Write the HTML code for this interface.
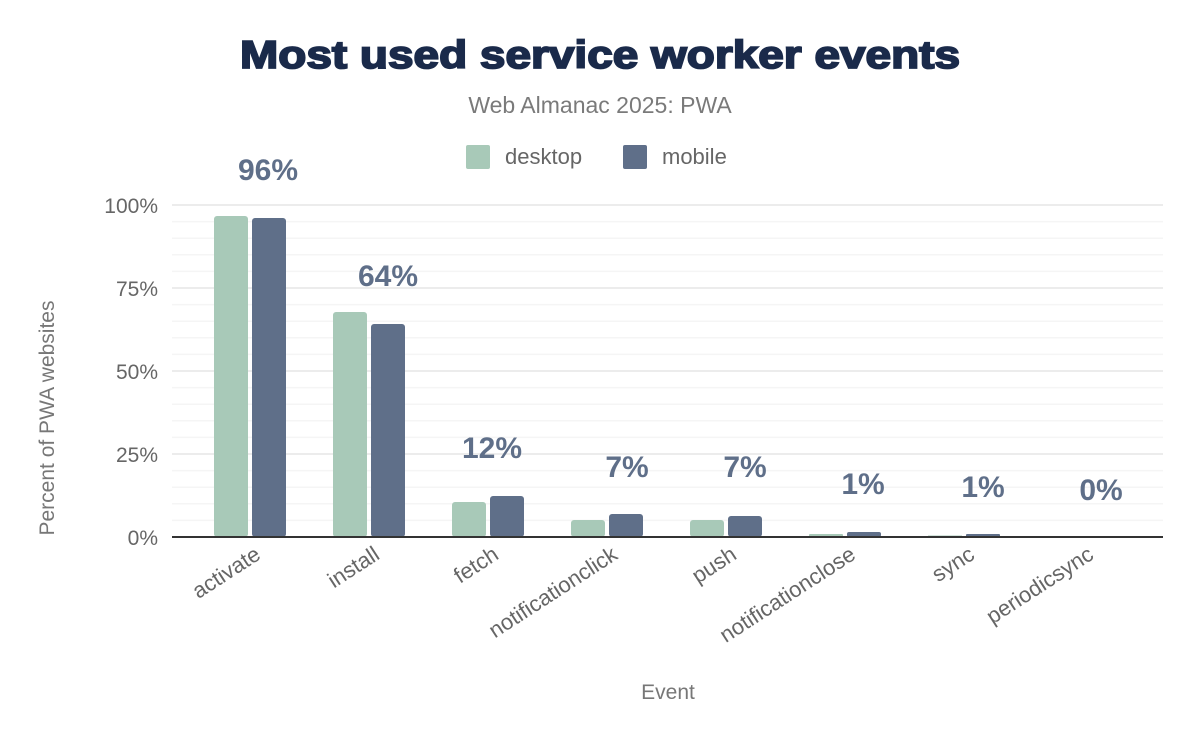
<!DOCTYPE html>
<html><head><style>body{margin:0;background:#fff}</style></head><body>
<svg width="1200" height="742" xmlns="http://www.w3.org/2000/svg" font-family="Liberation Sans, sans-serif">
<text x="600" y="68" text-anchor="middle" font-size="39" font-weight="900" fill="#1a2a4a" stroke="#1a2a4a" stroke-width="1.8" textLength="720" lengthAdjust="spacingAndGlyphs">Most used service worker events</text>
<text x="600" y="113" text-anchor="middle" font-size="23" fill="#7a7a7a">Web Almanac 2025: PWA</text>
<rect x="466" y="145" width="24" height="24" rx="2" fill="#a8c9b8"/>
<text x="505" y="164" font-size="22" fill="#666">desktop</text>
<rect x="623" y="145" width="24" height="24" rx="2" fill="#5f6f89"/>
<text x="662" y="164" font-size="22" fill="#666">mobile</text>
<g stroke="#f5f5f5" stroke-width="1.5">
<line x1="172" x2="1163" y1="205" y2="205" stroke="#ececec" stroke-width="2"/>
<line x1="172" x2="1163" y1="221.6" y2="221.6"/><line x1="172" x2="1163" y1="238.2" y2="238.2"/><line x1="172" x2="1163" y1="254.8" y2="254.8"/><line x1="172" x2="1163" y1="271.4" y2="271.4"/>
<line x1="172" x2="1163" y1="288" y2="288" stroke="#ececec" stroke-width="2"/>
<line x1="172" x2="1163" y1="304.6" y2="304.6"/><line x1="172" x2="1163" y1="321.2" y2="321.2"/><line x1="172" x2="1163" y1="337.8" y2="337.8"/><line x1="172" x2="1163" y1="354.4" y2="354.4"/>
<line x1="172" x2="1163" y1="371" y2="371" stroke="#ececec" stroke-width="2"/>
<line x1="172" x2="1163" y1="387.6" y2="387.6"/><line x1="172" x2="1163" y1="404.2" y2="404.2"/><line x1="172" x2="1163" y1="420.8" y2="420.8"/><line x1="172" x2="1163" y1="437.4" y2="437.4"/>
<line x1="172" x2="1163" y1="454" y2="454" stroke="#ececec" stroke-width="2"/>
<line x1="172" x2="1163" y1="470.6" y2="470.6"/><line x1="172" x2="1163" y1="487.2" y2="487.2"/><line x1="172" x2="1163" y1="503.8" y2="503.8"/><line x1="172" x2="1163" y1="520.4" y2="520.4"/>
</g>
<g font-size="21" fill="#666" text-anchor="end">
<text x="158" y="213">100%</text><text x="158" y="296">75%</text><text x="158" y="379">50%</text><text x="158" y="462">25%</text><text x="158" y="545">0%</text>
</g>
<text transform="translate(54,418) rotate(-90)" text-anchor="middle" font-size="21" fill="#777">Percent of PWA websites</text>
<g fill="#a8c9b8">
<rect x="214" y="216" width="34" height="321" rx="3"/>
<rect x="333" y="312" width="34" height="225" rx="3"/>
<rect x="452" y="502" width="34" height="35" rx="3"/>
<rect x="571" y="520" width="34" height="17" rx="3"/>
<rect x="690" y="520" width="34" height="17" rx="3"/>
<rect x="809" y="534" width="34" height="3" rx="1"/>
<rect x="928" y="535.5" width="34" height="1.5"/>
</g>
<g fill="#5f6f89">
<rect x="252" y="218" width="34" height="319" rx="3"/>
<rect x="371" y="324" width="34" height="213" rx="3"/>
<rect x="490" y="496" width="34" height="41" rx="3"/>
<rect x="609" y="514" width="34" height="23" rx="3"/>
<rect x="728" y="516" width="34" height="21" rx="3"/>
<rect x="847" y="532" width="34" height="5" rx="2"/>
<rect x="966" y="534" width="34" height="3" rx="1"/>
</g>
<line x1="172" x2="1163" y1="537" y2="537" stroke="#333" stroke-width="2"/>
<g font-size="30" font-weight="bold" fill="#5f6f89" text-anchor="middle">
<text x="268" y="180">96%</text><text x="388" y="286">64%</text><text x="492" y="458">12%</text>
<text x="627" y="477">7%</text><text x="745" y="477">7%</text><text x="863" y="494">1%</text>
<text x="983" y="497">1%</text><text x="1101" y="500">0%</text>
</g>
<g font-size="22" fill="#666" text-anchor="end">
<text transform="translate(262,558) rotate(-33)">activate</text>
<text transform="translate(381,558) rotate(-33)">install</text>
<text transform="translate(500,558) rotate(-33)">fetch</text>
<text transform="translate(619,558) rotate(-33)">notificationclick</text>
<text transform="translate(738,558) rotate(-33)">push</text>
<text transform="translate(857,558) rotate(-33)">notificationclose</text>
<text transform="translate(976,558) rotate(-33)">sync</text>
<text transform="translate(1095,558) rotate(-33)">periodicsync</text>
</g>
<text x="668" y="699" text-anchor="middle" font-size="21" fill="#777">Event</text>
</svg>
</body></html>
